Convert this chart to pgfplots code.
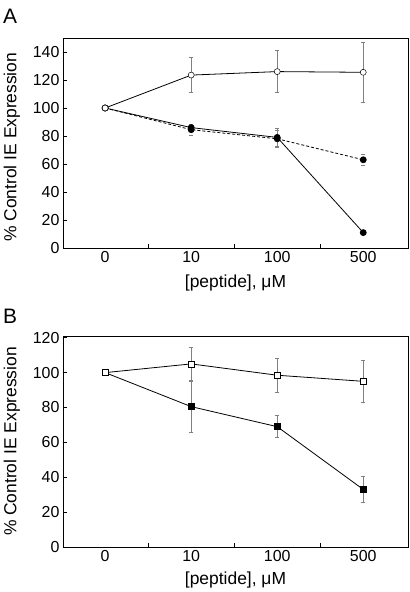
\documentclass[border=0pt]{standalone}
\usepackage{fontspec}
\setmainfont{Liberation Sans}
\usepackage{pgfplots}
\pgfplotsset{compat=1.18}
\begin{document}
\begin{tikzpicture}
\path[use as bounding box] (0bp,0bp) rectangle (410bp,592bp);
\pgfplotsset{
  panel/.style={
    scale only axis, width=345bp,
    xmin=-0.49, xmax=3.52, ymin=0,
    xtick={0,1,2,3}, xticklabels={0,10,100,500},
    major x tick style={draw=none},
    minor xtick={0.5,1.5,2.5},
    tick align=inside, xtick pos=bottom, ytick pos=left,
    major tick length=4bp, minor tick length=4bp,
    every tick/.style={black, line width=0.6pt},
    axis line style={line width=0.8pt},
    /pgf/number format/assume math mode=true,
    tick label style={font=\fontsize{16}{18}\selectfont},
    label style={font=\fontsize{17.5}{20}\selectfont},
    xlabel={[peptide], μM},
    ylabel={\% Control IE Expression},
    error bars/y dir=both, error bars/y explicit,
    error bars/error bar style={gray, line width=0.5pt},
    error bars/error mark options={rotate=90, gray, mark size=2bp, line width=0.5pt},
  },
  ser/.style={black, line width=0.8pt},
}
\begin{axis}[panel, at={(63bp,344bp)}, anchor=south west, height=210bp,
  ymax=150, ytick={0,20,...,140},
  ylabel style={at={(axis description cs:-0.148,0.48)}, anchor=center},
  xlabel style={at={(axis description cs:0.5,-0.165)}, anchor=center}]
\addplot[ser, dash pattern=on 3bp off 2bp, mark=*, mark size=3bp, mark options={solid, fill=black}]
  coordinates {(0,100) +- (0,0) (1,84.5) +- (0,4) (2,78) +- (0,6) (3,63) +- (0,4)};
\addplot[ser, mark=*, mark size=3bp, mark options={fill=black}]
  coordinates {(0,100) +- (0,0) (1,86) +- (0,2.5) (2,79) +- (0,6.5) (3,11) +- (0,0)};
\addplot[ser, mark=*, mark size=3bp, mark options={fill=white, line width=0.5pt}]
  coordinates {(0,100) +- (0,0) (1,123.5) +- (0,12.5) (2,126) +- (0,15) (3,125.5) +- (0,21.5)};
\end{axis}
\begin{axis}[panel, at={(63bp,45bp)}, anchor=south west, height=211bp,
  ymax=121, ytick={0,20,...,120},
  ylabel style={at={(axis description cs:-0.148,0.5)}, anchor=center},
  xlabel style={at={(axis description cs:0.5,-0.158)}, anchor=center}]
\addplot[ser, mark=square*, mark size=3bp, mark options={fill=black}]
  coordinates {(0,100) +- (0,0) (1,80.5) +- (0,14.5) (2,69) +- (0,6.3) (3,33) +- (0,7.5)};
\addplot[ser, mark=square*, mark size=3bp, mark options={fill=white, line width=0.5pt}]
  coordinates {(0,100) +- (0,0) (1,105) +- (0,9.5) (2,98.5) +- (0,9.5) (3,95) +- (0,12)};
\end{axis}
\node[font=\fontsize{21}{24}\selectfont, anchor=center] at (10bp,576bp) {A};
\node[font=\fontsize{21}{24}\selectfont, anchor=center] at (10bp,276bp) {B};
\end{tikzpicture}
\end{document}
